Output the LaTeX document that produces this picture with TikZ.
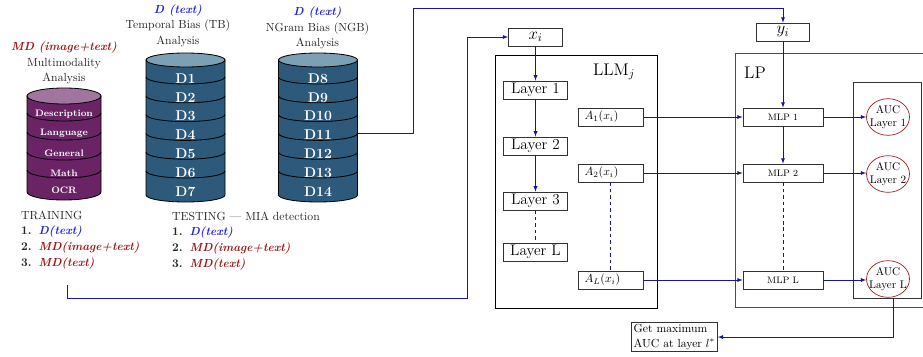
\documentclass[tikz,border=0pt]{standalone}
\usepackage{tikz}
\usetikzlibrary{shapes.geometric, calc}

\definecolor{linkblue}{RGB}{20,20,165}
\definecolor{textblue}{RGB}{35,35,235}
\definecolor{textred}{RGB}{160,25,25}
\definecolor{aucred}{RGB}{165,30,30}
\definecolor{mdbody}{RGB}{106,36,102}
\definecolor{mdtop}{RGB}{162,116,160}
\definecolor{dbbody}{RGB}{45,90,122}
\definecolor{dbtop}{RGB}{124,160,180}

\newcommand{\dtxt}[1]{\textcolor{textblue}{\bfseries\itshape #1}}
\newcommand{\mdtxt}[1]{\textcolor{textred}{\bfseries\itshape #1}}
\newcommand{\itemno}[1]{\makebox[15pt][l]{\bfseries #1}}

\begin{document}
\begin{tikzpicture}[x=0.3mm, y=-0.3mm,
    box/.style={draw=black!80, line width=0.6pt, minimum height=5.4mm, inner sep=2pt},
    layerbox/.style={box, minimum width=19.2mm, font=\fontsize{13}{15}\selectfont},
    actbox/.style={box, text width=15.5mm, inner xsep=2mm, align=left},
    mlpbox/.style={box, minimum width=24mm, font=\footnotesize},
    inbox/.style={box, font=\Large},
    aucnode/.style={ellipse, draw=aucred, line width=0.6pt, minimum width=12.9mm, minimum height=11mm,
                    inner sep=-4pt, align=center, font=\fontsize{9.5}{11}\selectfont},
    frame/.style={draw=black, line width=0.6pt},
    title/.style={align=center, text=black!85, font=\fontsize{10}{13.2}\selectfont},
    listing/.style={align=left, text=black!85, font=\fontsize{10}{13.4}\selectfont},
    dblabel/.style={text=white, font=\large\bfseries},
    mdlabel/.style={text=white, font=\footnotesize\bfseries},
    flow/.style={-latex, draw=linkblue, line width=0.6pt},
    skip/.style={draw=linkblue, dash pattern=on 3pt off 2.5pt, line width=0.8pt}]

  \useasboundingbox (0,0) rectangle (923,356);
  \clip (0,0) rectangle (923,356);

  % multimodal data
  \filldraw[fill=mdbody, line width=0.7pt] (27,96) -- (27,192) arc[start angle=180, end angle=0, x radius=37, y radius=8] -- (101,96) -- cycle;
  \filldraw[fill=mdtop, line width=0.7pt] (64,96) ellipse [x radius=37, y radius=8];
  \foreach \y in {113,132,152,170}
    \draw[line width=0.7pt] (27,\y) arc[start angle=180, end angle=0, x radius=37, y radius=8];
  \foreach \name/\y in {Description/114, Language/133, General/153, Math/173, OCR/190}
    \node[mdlabel] (md-\name) at (64,\y) {\name};
  \node[title] (mdtitle) at (64,63) {\mdtxt{MD (image+text)}\\Multimodality\\Analysis};

  % text data, temporal bias (D1-D7) and ngram bias (D8-D14)
  \foreach \cx/\first/\last in {185.5/1/7, 318/8/14} {
    \filldraw[fill=dbbody, line width=0.7pt] (\cx-39.5,60) -- (\cx-39.5,195) arc[start angle=180, end angle=0, x radius=39.5, y radius=7] -- (\cx+39.5,60) -- cycle;
    \filldraw[fill=dbtop, line width=0.7pt] (\cx,60) ellipse [x radius=39.5, y radius=7];
    \foreach \k in {1,...,6}
      \draw[line width=0.7pt] (\cx-39.5,58.2+18.8*\k) arc[start angle=180, end angle=0, x radius=39.5, y radius=7];
    \foreach \n [count=\k from 0] in {\first,...,\last}
      \node[dblabel] (d\n) at (\cx,78.5+18.8*\k) {D\n};
  }
  \node[title] (tbtitle) at (178,25.5) {\dtxt{D (text)}\\Temporal Bias (TB)\\Analysis};
  \node[title] (ngbtitle) at (317.5,28) {\dtxt{D (text)}\\NGram Bias (NGB)\\Analysis};
  \coordinate (ngbout) at (358,133);

  % splits
  \node[listing] (training) at (17,240) [anchor=west] {TRAINING\\
    \itemno{1.}\dtxt{D(text)}\\
    \itemno{2.}\mdtxt{MD(image+text)}\\
    \itemno{3.}\mdtxt{MD(text)}};
  \node[listing] (testing) at (168,241) [anchor=west] {TESTING --- MIA detection\\
    \itemno{1.}\dtxt{D(text)}\\
    \itemno{2.}\mdtxt{MD(image+text)}\\
    \itemno{3.}\mdtxt{MD(text)}};
  \coordinate (trainout) at (67,285);

  % target model
  \node[frame, minimum width=48.6mm, minimum height=75.9mm] (llm) at (576,181.5) {};
  \node[font=\Large] (llmtitle) at (614,72) {LLM$_j$};
  \node[inbox, minimum width=16.2mm] (xi) at (535.5,37) {$x_i$};
  \node[layerbox] (layer1) at (535.5,90) {Layer 1};
  \node[layerbox] (layer2) at (535.5,146) {Layer 2};
  \node[layerbox] (layer3) at (535.5,201) {Layer 3};
  \node[layerbox] (layerL) at (535.5,252) {Layer L};
  \node[actbox] (a1) at (610.5,117) {$A_1(x_i)$};
  \node[actbox] (a2) at (610.5,173) {$A_2(x_i)$};
  \node[actbox] (aL) at (610.5,280) {$A_L(x_i)$};

  % linear probes
  \node[frame, draw=black!70, thick, minimum width=60mm, minimum height=76.2mm] (lp) at (835,180) {};
  \node[font=\Large] (lptitle) at (755,73) {LP};
  \node[inbox, minimum width=15.9mm] (yi) at (783,32) {$y_i$};
  \node[mlpbox] (mlp1) at (783,117) {MLP 1};
  \node[mlpbox] (mlp2) at (783,173) {MLP 2};
  \node[mlpbox] (mlpL) at (783,280) {MLP L};
  \node[frame, draw=black!80, minimum width=20.4mm, minimum height=64.8mm] (aucpanel) at (887,190) {};
  \node[aucnode] (auc1) at (888,117) {AUC\\Layer 1};
  \node[aucnode] (auc2) at (888,174) {AUC\\Layer 2};
  \node[aucnode] (aucL) at (888,279) {AUC\\Layer L};
  \node[box, align=left, anchor=north west] (getmax) at (631,322) {Get maximum\\AUC at layer $l^*$};

  % connections
  \draw[flow] (ngbout) -| (413,8) -| (yi.north);
  \draw[flow] (trainout) |- (467,298) |- (xi.west);
  \draw[flow] (xi) -- (layer1);
  \draw[flow] (layer1) -- (layer2);
  \draw[flow] (layer2) -- (layer3);
  \draw[skip] (layer3) -- (layerL);
  \draw[skip] (a2) -- (aL);
  \draw[flow] (a1) -- (mlp1);
  \draw[flow] (a2) -- (mlp2);
  \draw[flow] (aL) -- (mlpL);
  \draw[flow] (yi) -- (mlp1);
  \draw[flow] (mlp1) -- (mlp2);
  \draw[skip] (mlp2) -- (mlpL);
  \draw[flow] (mlp1.east) -- (mlp1.east -| auc1.west);
  \draw[flow] (mlp2.east) -- (mlp2.east -| auc2.west);
  \draw[flow] (mlpL.east) -- (mlpL.east -| aucL.west);
  \draw[flow] ($(aucpanel.south)+(6,0)$) |- (getmax.east);
\end{tikzpicture}
\end{document}
